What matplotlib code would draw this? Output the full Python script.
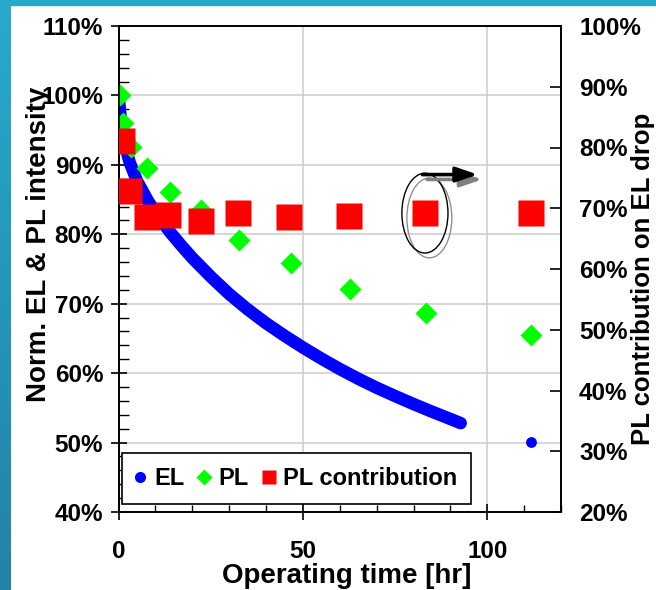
import numpy as np
import matplotlib
matplotlib.use("Agg")
import matplotlib.pyplot as plt
import matplotlib.patches as mpatches
from matplotlib.lines import Line2D
from matplotlib.ticker import MultipleLocator, FuncFormatter
from matplotlib.colors import LinearSegmentedColormap

plt.rcParams["font.family"] = ["Liberation Sans", "DejaVu Sans"]
plt.rcParams["font.weight"] = "bold"

# ── Data ────────────────────────────────────────────────────────────────────
el_time = [0, 0.5, 1, 2, 3, 5, 8, 11, 14, 17, 20, 25, 30, 35, 40, 45, 50,
           55, 60, 65, 70, 75, 80, 85, 90, 92.8]
el_norm = [100, 97.3, 95.3, 92.4, 90.4, 87.7, 84.8, 82.4, 80.3, 78.4, 76.6,
           73.9, 71.4, 69.2, 67.2, 65.4, 63.7, 62.1, 60.6, 59.2, 57.9, 56.7,
           55.55, 54.45, 53.4, 52.8]
el_end_time = [111.8]
el_end_norm = [50.1]

pl_time = [0.4, 1.1, 3.3, 7.8, 14.0, 22.5, 32.7, 46.7, 62.7, 83.3, 111.9]
pl_norm = [100.0, 96.0, 92.6, 89.6, 86.1, 83.5, 79.2, 75.8, 72.1, 68.6, 65.5]

pc_time = [0.9, 2.9, 7.6, 13.5, 22.3, 32.5, 46.3, 62.5, 83.1, 111.8]
pc_value = [81.0, 72.9, 68.6, 68.9, 67.9, 69.2, 68.6, 68.7, 69.2, 69.2]

BLUE, GREEN, RED = "#0000FF", "#00FF00", "#FF0000"
pct = FuncFormatter(lambda v, _: f"{v:.0f}%")

fig = plt.figure(figsize=(6.56, 5.9), dpi=100)

# slide border (teal band top and left)
fig.patches.append(mpatches.Rectangle((0, 1 - 5 / 590), 1, 5 / 590, transform=fig.transFigure,
                                      color="#27A9CA", zorder=0))
band = fig.add_axes([0, 0, 11 / 656, 1])
band.imshow(np.linspace(0, 1, 100).reshape(-1, 1), aspect="auto",
            cmap=LinearSegmentedColormap.from_list("b", ["#27AACB", "#2283A7"]))
band.axis("off")

ax = fig.add_axes([118.5 / 656, 78 / 590, 442.5 / 656, 486 / 590])
ax2 = ax.twinx()

ax.set_xlim(0, 120)
ax.set_ylim(40, 110)
ax2.set_ylim(20, 100)

ax.plot(el_time, el_norm, "-", color=BLUE, lw=9, solid_capstyle="round",
        solid_joinstyle="round", zorder=3)
ax.plot(el_end_time, el_end_norm, "o", color=BLUE, ms=7.8, mec="none", zorder=3)
ax.plot(pl_time, pl_norm, "D", color=GREEN, ms=11.5, mec="none", ls="none", zorder=4)
ax2.plot(pc_time, pc_value, "s", color=RED, ms=18.5, mec="none", ls="none", zorder=5)

# grid
ax.grid(True, which="major", color="#CCCCCC", lw=1.1)
ax.set_axisbelow(True)

# ticks
ax.xaxis.set_major_locator(MultipleLocator(50))
ax.xaxis.set_minor_locator(MultipleLocator(10))
ax.yaxis.set_major_locator(MultipleLocator(10))
ax.yaxis.set_minor_locator(MultipleLocator(2))
ax.yaxis.set_major_formatter(pct)
ax2.yaxis.set_major_locator(MultipleLocator(10))
ax2.yaxis.set_major_formatter(pct)

ax.tick_params(axis="both", which="major", direction="inout", length=12, width=1.2,
               labelsize=17.5, pad=5)
ax.tick_params(axis="x", which="major", pad=14)
ax.tick_params(axis="y", which="minor", direction="in", length=7, width=1)
ax.tick_params(axis="x", which="minor", direction="in", length=5, width=1)
ax.tick_params(top=False, which="both")
ax2.tick_params(axis="y", which="major", direction="in", length=8, width=1.2,
                labelsize=17.5, pad=13)
for a in (ax, ax2):
    for s in a.spines.values():
        s.set_linewidth(1.2)
    for lab in a.get_xticklabels() + a.get_yticklabels():
        lab.set_fontweight("bold")

ax.set_xlabel("Operating time [hr]", fontsize=20, fontweight="bold", labelpad=0, x=0.516)
ax.set_ylabel("Norm. EL & PL intensity", fontsize=20, fontweight="bold", labelpad=-8, y=0.55)
ax2.set_ylabel("PL contribution on EL drop", fontsize=18.5, fontweight="bold")
ax2.yaxis.set_label_coords(1.158, 0.48)

# annotation: circled point with arrow to the right axis
ax.add_patch(mpatches.Ellipse((84.3, 82.35), 12.2, 11.5, fill=False, ec="#909090", lw=1, zorder=6))
ax.add_patch(mpatches.Ellipse((83.1, 83.05), 12.5, 11.5, fill=False, ec="black", lw=1, zorder=6))
ax.annotate("", xy=(98.6, 87.9), xytext=(83.7, 87.9),
            arrowprops=dict(arrowstyle="-|>,head_length=1.3,head_width=0.45", lw=2.6,
                            color="#808080", shrinkA=0, shrinkB=0), zorder=6)
ax.annotate("", xy=(97.4, 88.6), xytext=(82.4, 88.6),
            arrowprops=dict(arrowstyle="-|>,head_length=1.3,head_width=0.45", lw=2.6,
                            color="black", shrinkA=0, shrinkB=0), zorder=6)

handles = [
    Line2D([], [], marker="o", color=BLUE, ls="none", ms=8, mec="none"),
    Line2D([], [], marker="D", color=GREEN, ls="none", ms=8, mec="none"),
    Line2D([], [], marker="s", color=RED, ls="none", ms=10, mec="none"),
]
leg = ax2.legend(handles, ["EL", "PL", "PL contribution"], loc="lower left",
                 bbox_to_anchor=(0.008, 0.016), borderaxespad=0, ncol=3,
                 prop={"size": 17, "weight": "bold"}, frameon=True, fancybox=False,
                 edgecolor="black", framealpha=1, handlelength=0.3, handletextpad=0.45,
                 columnspacing=0.7, borderpad=0.6)
leg.get_frame().set_linewidth(1.2)

fig.savefig("out.png", dpi=100)
